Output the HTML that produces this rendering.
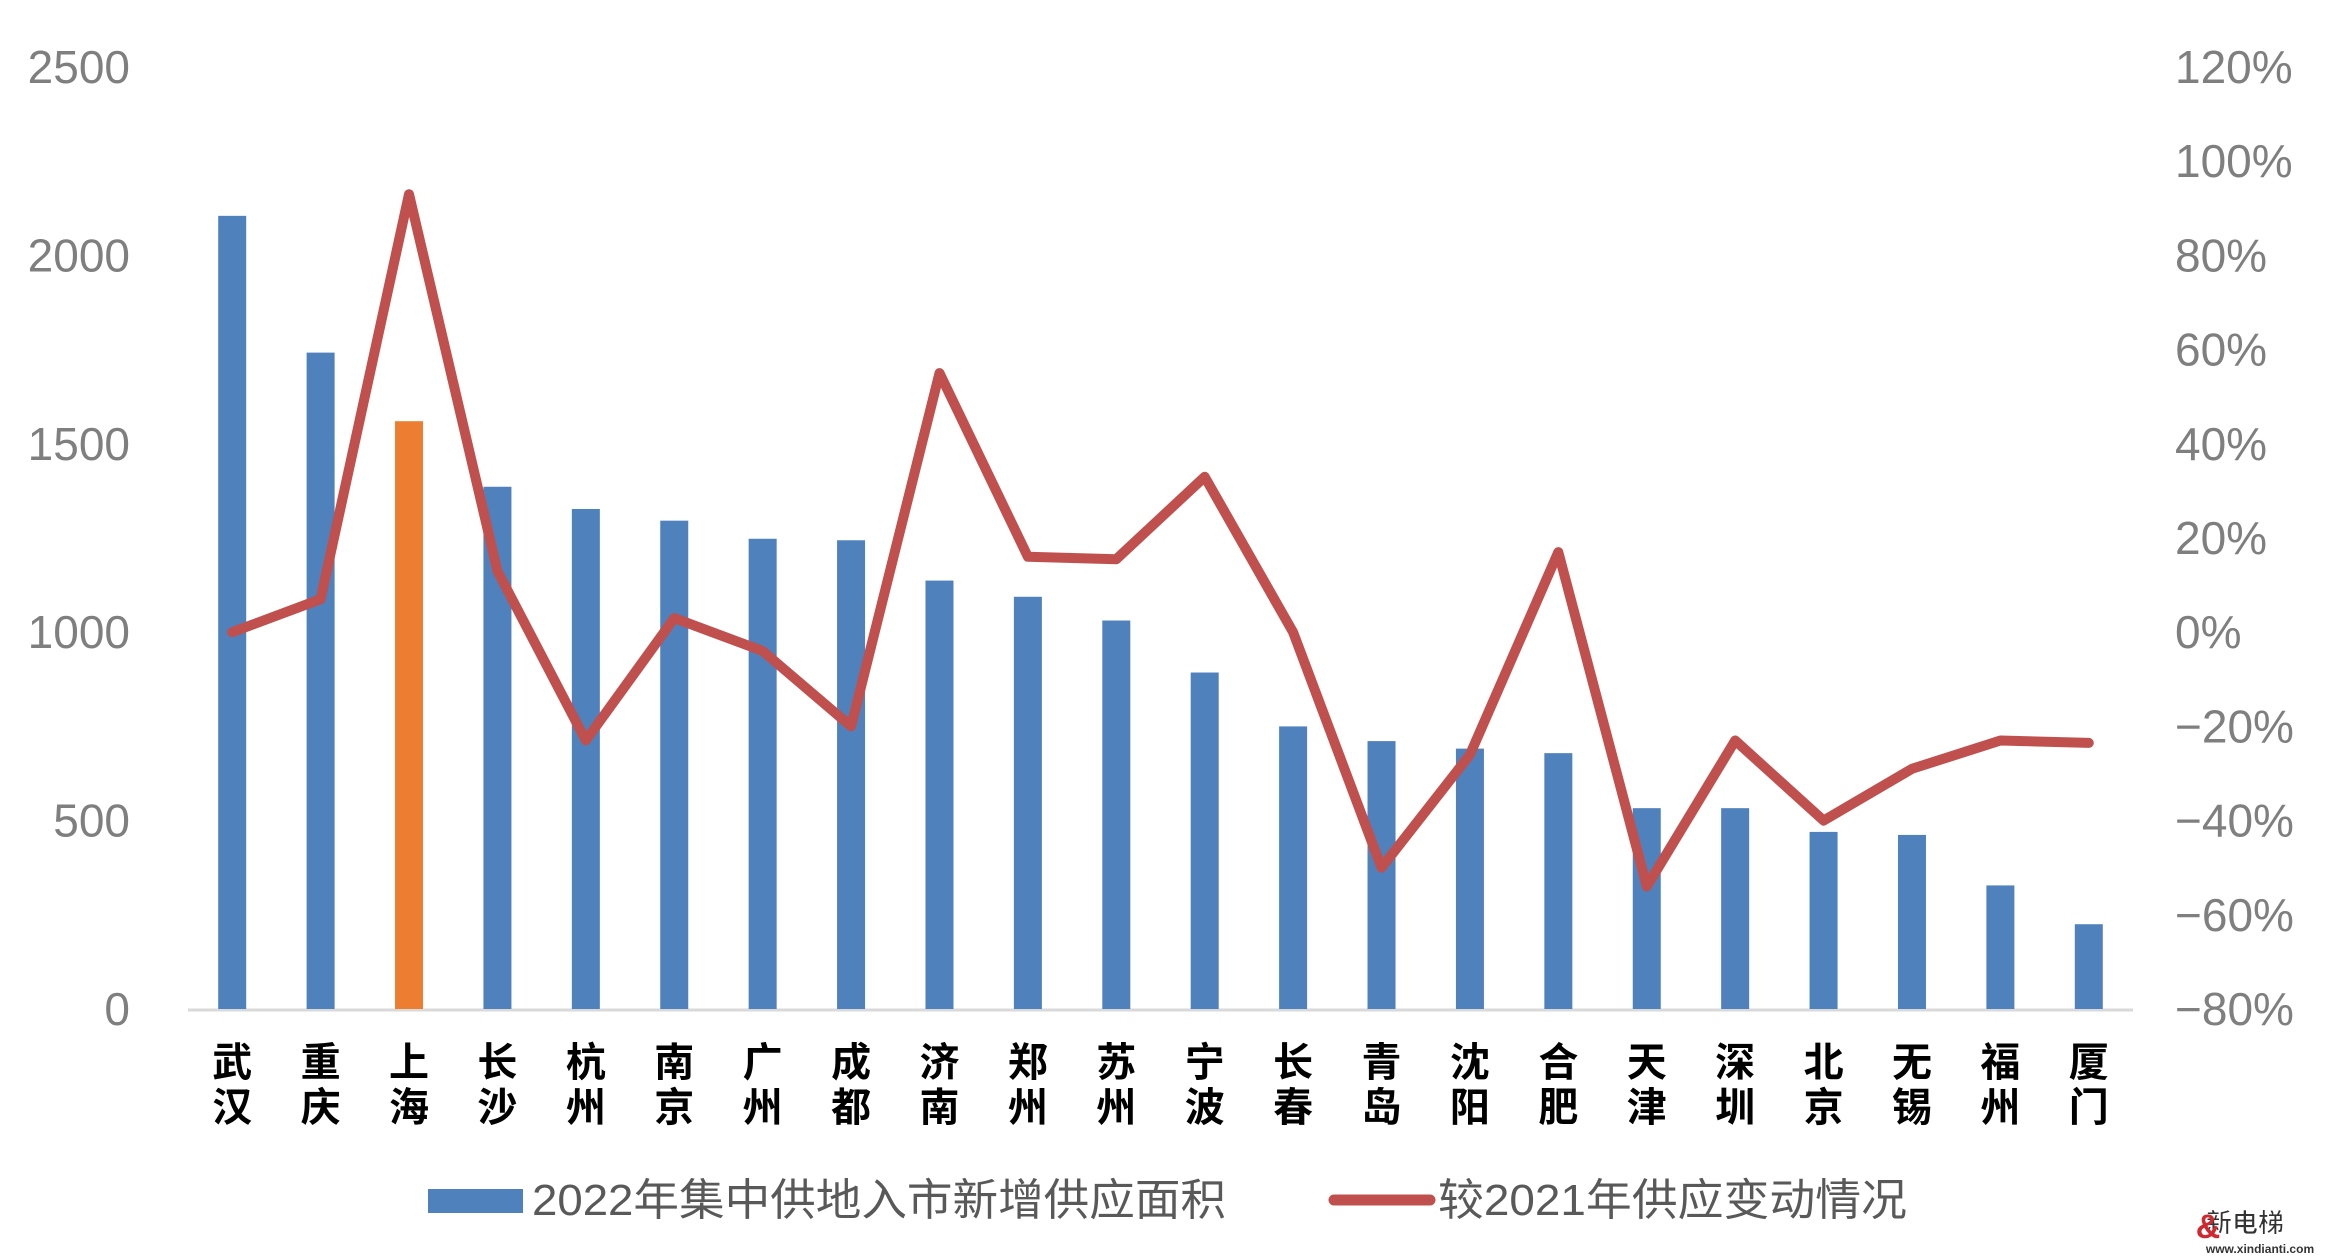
<!DOCTYPE html>
<html><head><meta charset="utf-8">
<style>
html,body{margin:0;padding:0;background:#fff;}
svg{display:block;}
text{font-family:"Liberation Sans","Noto Sans CJK SC",sans-serif;}
</style></head>
<body>
<svg id="chart" width="2330" height="1258" viewBox="0 0 2330 1258" xmlns="http://www.w3.org/2000/svg">
<g id="grid"></g>
<g id="bars"></g>
<g id="line"></g>
<g id="labels"></g>
<g>
  <rect x="428" y="1189" width="95" height="24" fill="#4f81bd"/>
  <text x="532" y="1215" font-size="44" fill="#595959" textLength="694" lengthAdjust="spacingAndGlyphs">2022年集中供地入市新增供应面积</text>
  <line x1="1334" y1="1200" x2="1430" y2="1200" stroke="#c0504d" stroke-width="11" stroke-linecap="round"/>
  <text x="1438" y="1215" font-size="44" fill="#595959" textLength="469" lengthAdjust="spacingAndGlyphs">较2021年供应变动情况</text>
</g>
<g>
  <text x="2245" y="1232" font-size="26" font-weight="bold" fill="#333" stroke="#fff" stroke-width="1" text-anchor="middle">新电梯</text>
  <text x="2260" y="1253" font-size="12" font-weight="bold" fill="#333" text-anchor="middle">www.xindianti.com</text>
  <text x="2208" y="1238" font-size="34" font-weight="bold" fill="#d0282e" text-anchor="middle">&amp;</text>
</g>
</svg>
<script>
const categories = ["武汉","重庆","上海","长沙","杭州","南京","广州","成都","济南","郑州","苏州","宁波","长春","青岛","沈阳","合肥","天津","深圳","北京","无锡","福州","厦门"];
const supplyValues = [2105,1742,1560,1386,1327,1296,1248,1244,1137,1094,1031,893,750,711,691,679,533,533,470,462,328,225];
const changeValues = [0,7,93,13,-23,3,-4,-20,55,16,15.5,33,0,-50,-26,17,-54,-23,-40,-29,-23,-23.5];
const leftTicks = [0,500,1000,1500,2000,2500];
const rightTicks = [-80,-60,-40,-20,0,20,40,60,80,100,120];
const highlightIndex = 2;

const NS = "http://www.w3.org/2000/svg";
const x0 = 188, x1 = 2133, yBase = 1009, yTop = 67;
const band = (x1 - x0) / categories.length;
function xC(i){ return x0 + band * (i + 0.5); }
function yL(v){ return yBase - (v / 2500) * (yBase - yTop); }
function yR(v){ return yBase - ((v + 80) / 200) * (yBase - yTop); }
function mk(tag, attrs, parent){ const e = document.createElementNS(NS, tag); for (const k in attrs) e.setAttribute(k, attrs[k]); parent.appendChild(e); return e; }

const grid = document.getElementById('grid');
const axis = mk('line', {x1:x0, y1:yBase+1, x2:x1, y2:yBase+1, stroke:'#d9d9d9', 'stroke-width':3}, grid);


leftTicks.forEach(v => {
  const t = mk('text', {x:130, y:yL(v)+16, 'font-size':46, fill:'#7f7f7f', 'text-anchor':'end'}, grid);
  t.textContent = v;
  
  
});
rightTicks.forEach(v => {
  const t = mk('text', {x:2175, y:yR(v)+16, 'font-size':46, fill:'#7f7f7f'}, grid);
  t.textContent = (v < 0 ? '\u2212' + (-v) : v) + '%';
  
  
});

const bars = document.getElementById('bars');
const bw = 28;
supplyValues.forEach((v, i) => {
  const r = mk('rect', {x:xC(i)-bw/2, y:yL(v), width:bw, height:yBase - yL(v), fill: i === highlightIndex ? '#ed7d31' : '#4f81bd'}, bars);
  
  
});

const lineG = document.getElementById('line');
const pts = changeValues.map((v, i) => xC(i).toFixed(1) + ',' + yR(v).toFixed(1)).join(' ');
const pl = mk('polyline', {points:pts, fill:'none', stroke:'#c0504d', 'stroke-width':10, 'stroke-linejoin':'round', 'stroke-linecap':'round'}, lineG);



const labels = document.getElementById('labels');
categories.forEach((c, i) => {
  [0,1].forEach(k => {
    const t = mk('text', {x:xC(i), y:1076 + k*45, 'font-size':40, 'font-weight':'bold', fill:'#000', 'text-anchor':'middle'}, labels);
    t.textContent = c[k];
    
    
  });
});
</script>
</body></html>
